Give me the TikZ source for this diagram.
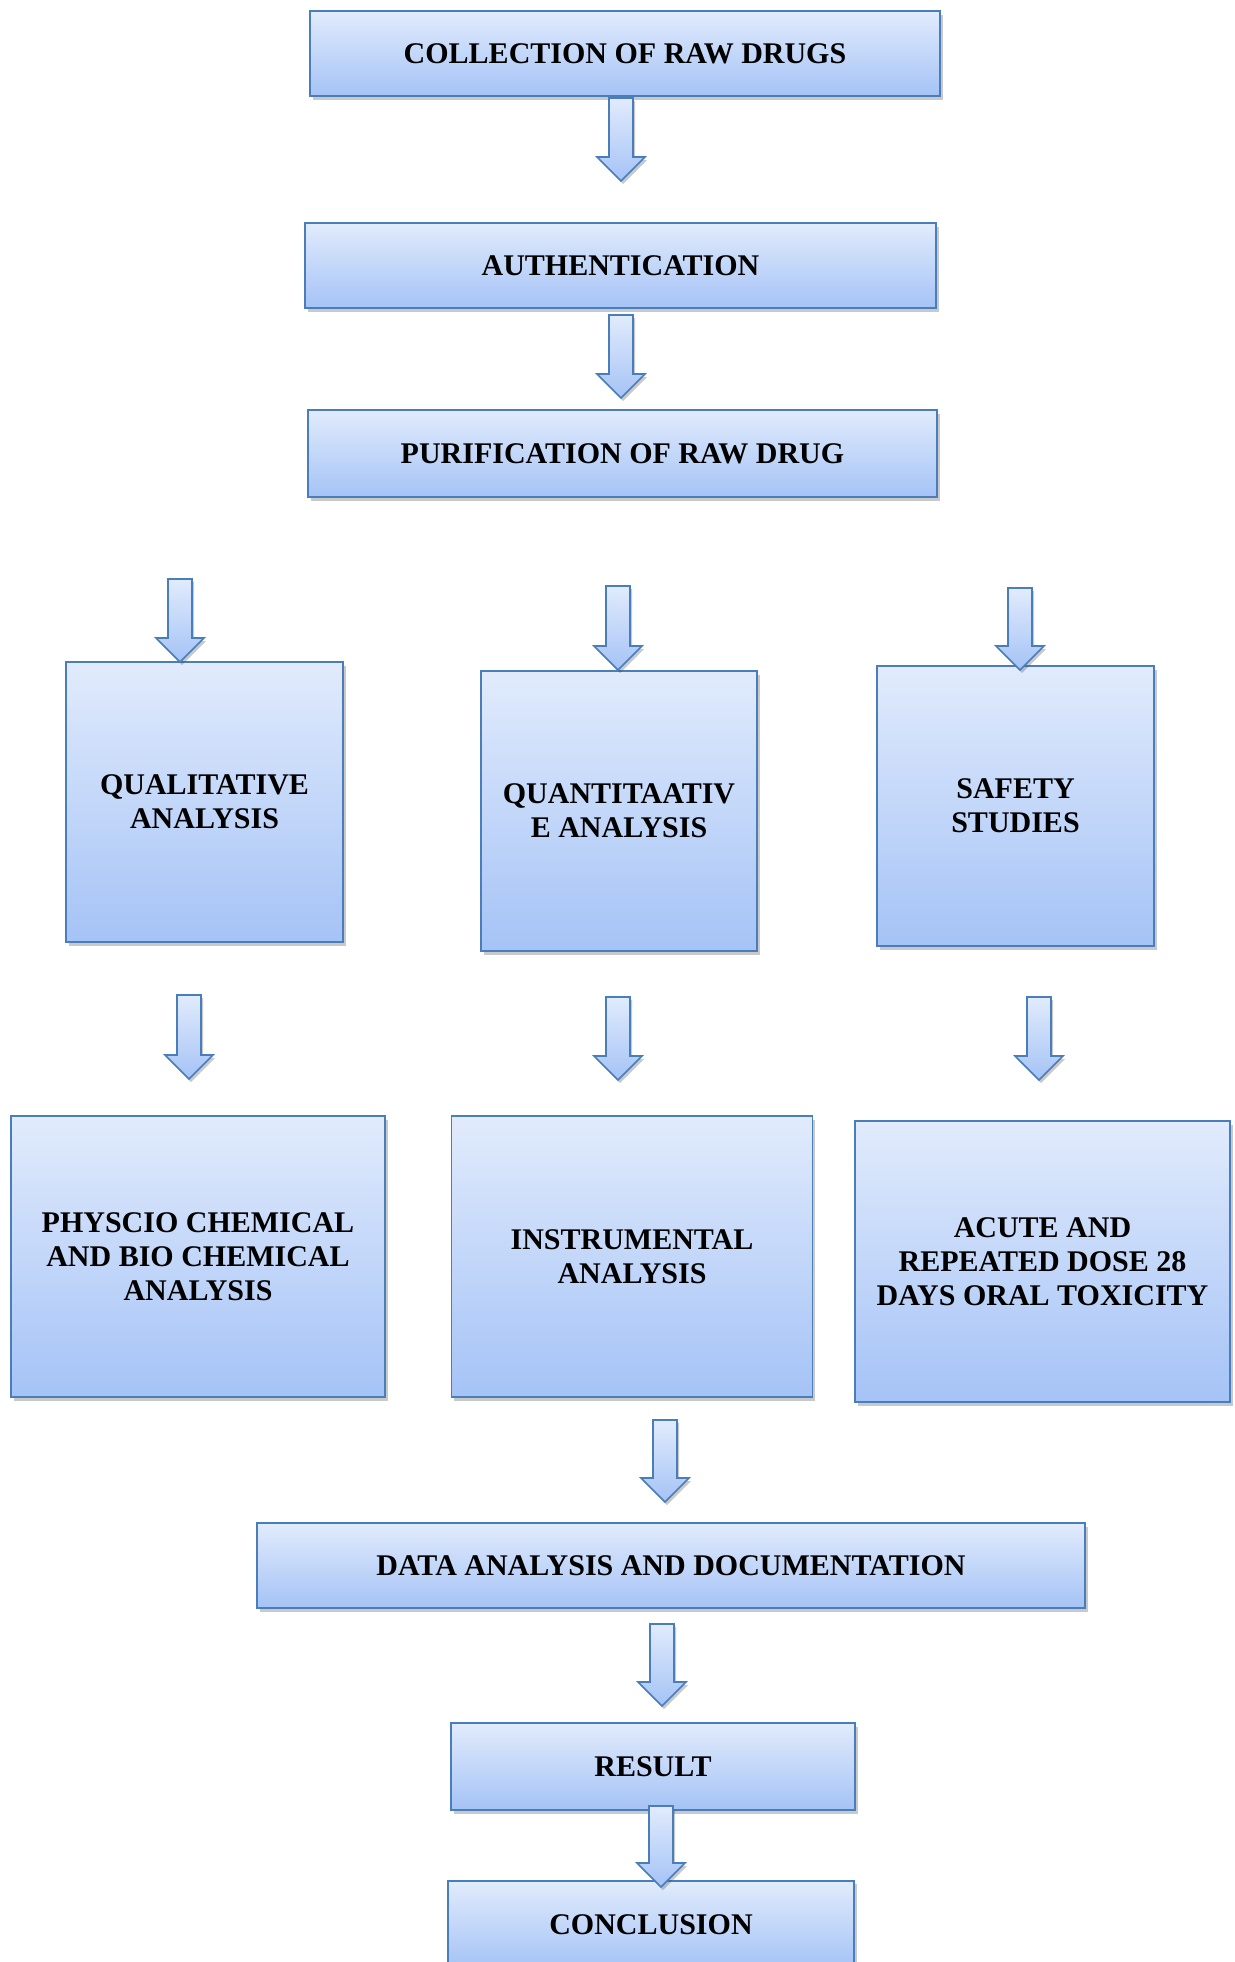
\documentclass[tikz,border=0pt]{standalone}
\usepackage{fontspec}
\setmainfont{Liberation Serif}
\usetikzlibrary{shadows}
\definecolor{bordc}{HTML}{4A7EBB}
\definecolor{topc}{HTML}{E1EBFC}
\definecolor{botc}{HTML}{A5C3F6}
\tikzset{
  box/.style={draw=bordc, line width=1.8pt, top color=topc, bottom color=botc,
    drop shadow={shadow xshift=2.5pt, shadow yshift=-3.5pt, opacity=0.3, fill=black!70},
    align=center, inner sep=4pt,
    font=\fontsize{30}{34}\selectfont\bfseries},
  barrowstyle/.style={draw=bordc, line width=1.6pt, top color=topc, bottom color=botc,
    drop shadow={shadow xshift=2pt, shadow yshift=-3pt, opacity=0.3, fill=black!70}}
}
\newcommand\blockarrow[3]{%
  \path[barrowstyle] (#1-12,#2) -- (#1+12,#2) -- (#1+12,#3-24) -- (#1+24,#3-24)
    -- (#1,#3) -- (#1-24,#3-24) -- (#1-12,#3-24) -- cycle;}
\begin{document}
\begin{tikzpicture}[x=1pt,y=-1pt]
\useasboundingbox (0,0) rectangle (1234,1962);
\node[box, minimum width=630pt, minimum height=85pt] (c1) at (625,53.5) {COLLECTION OF RAW DRUGS};
\node[box, minimum width=631pt, minimum height=85pt] (c2) at (620.5,265.5) {AUTHENTICATION};
\node[box, minimum width=629pt, minimum height=87pt] (c3) at (622.5,453.5) {PURIFICATION OF RAW DRUG};
\node[box, minimum width=277pt, minimum height=280pt] (q1) at (204.5,802) {QUALITATIVE\\ANALYSIS};
\node[box, minimum width=276pt, minimum height=280pt] (q2) at (619,811) {QUANTITAATIV\\E ANALYSIS};
\node[box, minimum width=277pt, minimum height=280pt] (q3) at (1015.5,806) {SAFETY\\STUDIES};
\node[box, minimum width=374pt, minimum height=281pt] (p1) at (198,1256.5) {PHYSCIO CHEMICAL\\AND BIO CHEMICAL\\ANALYSIS};
\node[box, minimum width=361pt, minimum height=281pt] (p2) at (632,1256.5) {INSTRUMENTAL\\ANALYSIS};
\node[box, minimum width=375pt, minimum height=281pt] (p3) at (1042.5,1261.5) {ACUTE AND\\REPEATED DOSE 28\\DAYS ORAL TOXICITY};
\node[box, minimum width=828pt, minimum height=85pt] (d) at (671,1565.5) {DATA ANALYSIS AND DOCUMENTATION};
\node[box, minimum width=404pt, minimum height=87pt] (r) at (653,1766.5) {RESULT};
\node[box, minimum width=406pt, minimum height=87pt, anchor=north] (cc) at (651,1880) {CONCLUSION};
\blockarrow{621}{98}{181}
\blockarrow{621}{315}{398}
\blockarrow{180}{579}{662}
\blockarrow{618}{586}{670}
\blockarrow{1020}{588}{670}
\blockarrow{189}{995}{1079}
\blockarrow{618}{997}{1080}
\blockarrow{1039}{997}{1080}
\blockarrow{665}{1420}{1502}
\blockarrow{662}{1624}{1706}
\blockarrow{661}{1806}{1887}
\end{tikzpicture}
\end{document}
